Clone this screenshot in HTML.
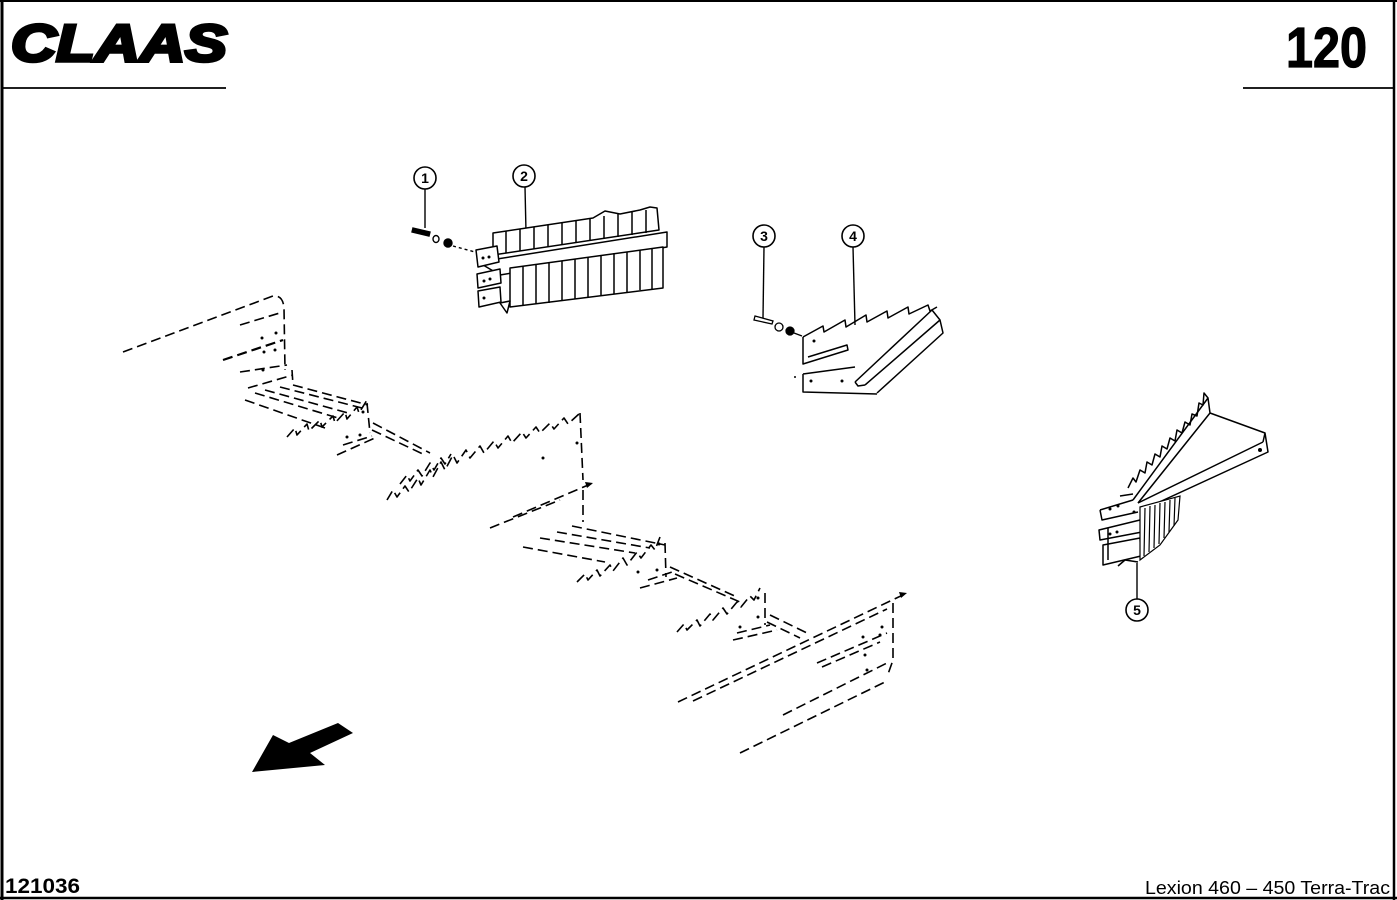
<!DOCTYPE html>
<html><head><meta charset="utf-8"><style>
html,body{margin:0;padding:0;background:#fff;}
svg{display:block;}
</style></head><body>
<svg width="1397" height="900" viewBox="0 0 1397 900" xmlns="http://www.w3.org/2000/svg">
<rect x="0" y="0" width="1397" height="900" fill="#fff"/>
<!-- frame -->
<g stroke="#000" fill="none">
<line x1="0" y1="1" x2="1397" y2="1" stroke-width="2"/>
<line x1="2" y1="0" x2="2" y2="900" stroke-width="3"/>
<line x1="1394" y1="0" x2="1394" y2="900" stroke-width="2.5"/>
<line x1="0" y1="898" x2="1397" y2="898" stroke-width="2.5"/>
<line x1="2" y1="88" x2="226" y2="88" stroke-width="1.8"/>
<line x1="1243" y1="88" x2="1394" y2="88" stroke-width="1.8"/>
</g>
<!-- header texts -->
<text x="11" y="61" font-family="Liberation Sans, sans-serif" font-weight="bold" font-style="italic" font-size="52" textLength="216" lengthAdjust="spacingAndGlyphs" fill="#000" stroke="#000" stroke-width="3.5" stroke-linejoin="miter">CLAAS</text>
<text x="1286" y="67" font-family="Liberation Sans, sans-serif" font-weight="bold" font-size="57" textLength="81" lengthAdjust="spacingAndGlyphs" fill="#000" stroke="#000" stroke-width="1.2">120</text>
<text x="5" y="893" font-family="Liberation Sans, sans-serif" font-weight="bold" font-size="21" textLength="75" lengthAdjust="spacingAndGlyphs" fill="#000">121036</text>
<text x="1145" y="894" font-family="Liberation Sans, sans-serif" font-size="18" textLength="245" lengthAdjust="spacingAndGlyphs" fill="#000">Lexion 460 – 450 Terra-Trac</text>

<!-- callouts -->
<g stroke="#000" stroke-width="1.6" fill="#fff">
<circle cx="425" cy="178" r="11"/>
<circle cx="524" cy="176" r="11"/>
<circle cx="764" cy="236" r="11"/>
<circle cx="853" cy="236" r="11"/>
<circle cx="1137" cy="610" r="11"/>
</g>
<g font-family="Liberation Sans, sans-serif" font-weight="bold" font-size="14" text-anchor="middle" fill="#000">
<text x="425" y="183">1</text>
<text x="524" y="181">2</text>
<text x="764" y="241">3</text>
<text x="853" y="241">4</text>
<text x="1137" y="615">5</text>
</g>
<g stroke="#000" stroke-width="1.4" fill="none">
<line x1="425" y1="189" x2="425" y2="228"/>
<line x1="525" y1="187" x2="526" y2="232"/>
<line x1="764" y1="247" x2="763" y2="318"/>
<line x1="853" y1="247" x2="855" y2="325"/>
<line x1="1137" y1="599" x2="1137" y2="563"/>
</g>

<!-- part 1 hardware -->
<g stroke="#000" stroke-width="1.4">
<path d="M413,228 L430,232 L429,236 L412,232 Z" fill="#000"/>
<ellipse cx="436" cy="239" rx="3" ry="3.5" fill="#fff"/>
<circle cx="448" cy="243" r="4" fill="#000"/>
<line x1="453" y1="246" x2="475" y2="252" stroke-dasharray="3 3" fill="none"/>
</g>

<!-- part 2 -->
<g stroke="#000" stroke-width="1.5" fill="#fff" stroke-linejoin="round">
<path d="M493,233 L593,218 L605,211 L620,214 L640,210 L650,207 L657,208 L659,230 L493,255 Z"/>
<path d="M506,231 L506,253 M520,229 L520,251 M534,227 L534,249 M548,225 L548,247 M562,223 L562,245 M576,221 L576,243 M590,219 L590,241 M604,216 L604,239 M618,214 L618,237 M632,212 L632,235 M646,210 L646,233" fill="none"/>
<path d="M478,262 L667,232 L667,247 L500,275 Z"/>
<path d="M510,268 L663,247 L663,288 L510,307 Z"/>
<path d="M523,266 L523,306 M536,264 L536,304 M549,263 L549,303 M562,261 L562,301 M575,259 L575,299 M588,257 L588,297 M601,255 L601,295 M614,253 L614,294 M627,252 L627,292 M640,250 L640,290 M652,249 L652,289" fill="none"/>
<path d="M476,250 L497,246 L499,262 L478,267 Z"/>
<path d="M477,274 L500,269 L501,283 L478,288 Z"/>
<path d="M478,291 L500,287 L501,302 L479,307 Z"/>
<path d="M500,303 L510,301 L507,313 Z"/>
</g>
<g fill="#000">
<circle cx="483" cy="258" r="1.5"/><circle cx="489" cy="257" r="1.5"/>
<circle cx="484" cy="281" r="1.5"/><circle cx="490" cy="279" r="1.5"/>
<circle cx="484" cy="298" r="1.5"/>
</g>

<!-- part 3 hardware -->
<g stroke="#000" stroke-width="1.3">
<path d="M755,316 L773,321 L772,324 L754,320 Z" fill="#fff"/>
<circle cx="779" cy="327" r="4" fill="#fff"/>
<circle cx="790" cy="331" r="4" fill="#000"/>
<line x1="794" y1="333" x2="802" y2="336" fill="none"/>
</g>
<!-- part 4 -->
<g stroke="#000" stroke-width="1.5" fill="none" stroke-linejoin="round">
<path d="M803,337 L823,326 L824,332 L845,320 L846,327 L866,315 L867,322 L887,311 L888,318 L908,307 L909,314 L928,305 L930,311 L937,307"/>
<path d="M803,337 L803,364 L848,350 L847,345 L808,357"/>
<path d="M855,382 L932,310 L940,320 L943,333 L877,393 M865,385 L940,320 M855,382 L858,386 L865,385"/>
<path d="M803,374 L855,367 M803,374 L803,392 L877,394"/>
</g>
<g fill="#000">
<circle cx="814" cy="341" r="1.5"/><circle cx="811" cy="381" r="1.5"/><circle cx="842" cy="381" r="1.5"/><circle cx="795" cy="377" r="1"/>
</g>

<!-- part 5 -->
<g stroke="#000" stroke-width="1.5" fill="none" stroke-linejoin="round">
<path d="M1128,488 L1133,478 L1136,482 L1140,470 L1145,473 L1147,462 L1152,465 L1155,454 L1160,457 L1162,446 L1167,449 L1170,438 L1175,441 L1177,430 L1182,433 L1185,422 L1190,425 L1192,414 L1197,416 L1199,403 L1203,405 L1204,393 L1208,398"/>
<path d="M1133,500 L1208,398 L1210,413 L1138,503"/>
<path d="M1210,413 L1265,433 L1268,452 L1142,510 M1138,503 L1263,442 M1265,433 L1263,442"/>
<path d="M1100,510 L1102,520 L1138,512 M1100,510 L1133,500 M1120,496 L1133,494"/>
<path d="M1099,530 L1140,520 L1142,532 L1100,540 Z"/>
<path d="M1103,545 L1140,538 L1141,556 L1103,565 Z"/>
<path d="M1118,566 L1125,560 L1138,562"/>
<path d="M1108,528 L1108,560"/>
</g>
<g stroke="#000" stroke-width="1.2" fill="none">
<path d="M1140,507 L1180,496 L1178,520 L1160,545 L1140,560 Z" fill="#fff"/>
<path d="M1145,508 L1144,556 M1150,506 L1149,552 M1155,505 L1154,548 M1160,503 L1159,544 M1165,502 L1164,538 M1170,500 L1169,532 M1175,498 L1174,526"/>
</g>
<g fill="#000">
<circle cx="1260" cy="450" r="2"/><circle cx="1134" cy="512" r="1.5"/><circle cx="1110" cy="509" r="1.5"/><circle cx="1118" cy="506" r="1.5"/><circle cx="1110" cy="534" r="1.5"/><circle cx="1117" cy="532" r="1.5"/>
</g>

<!-- dashed frame drawing -->
<g stroke="#000" stroke-width="1.6" fill="none" stroke-dasharray="10 5" stroke-linejoin="round">
<path d="M123,352 L273,296 Q283,295 284,308 L285,370"/>
<path d="M240,325 L283,312"/>
<path d="M223,360 L283,340" stroke-width="2.2"/>
<path d="M240,372 L287,365"/>
<path d="M248,388 L293,375 M292,370 L293,385"/>
<path d="M255,393 L338,418 M265,390 L348,413 M280,387 L362,408 M293,385 L368,405 M245,400 L325,428"/>
<path d="M287,437 L295,428 L297,435 L307,424 L309,431 L320,420 L322,427 L333,416 L335,423 L345,412 L347,419 L357,407 L359,413 L367,400"/>
<path d="M367,403 L370,433"/>
<path d="M337,455 L377,437 M343,445 L372,436"/>
<path d="M373,423 L430,453 M372,430 L425,455"/>
<path d="M387,500 L393,490 L397,497 L405,486 L409,492 L418,478 L421,485 L430,470 L433,477 L441,462 L445,470 L453,455 L457,463 L466,450 L470,458 L480,446 L484,453 L494,441 L498,448 L508,436 L512,443 L522,432 L526,438 L536,427 L540,433 L550,423 L554,429 L564,418 L568,424 L580,413"/>
<path d="M400,484 L407,475 L410,481 L418,470 L422,476 L430,463 L434,470 L441,458 L445,464 L451,454"/>
<path d="M580,413 L583,480"/>
<path d="M490,528 L560,500 M513,517 L593,483"/>
<path d="M583,490 L583,522"/>
<path d="M523,547 L605,562 M540,538 L635,553 M557,532 L650,548 M572,526 L665,545"/>
<path d="M577,582 L585,574 L588,580 L597,570 L600,576 L610,565 L613,571 L623,558 L627,565 L637,552 L641,558 L651,545 L655,550 L660,537"/>
<path d="M665,543 L666,577"/>
<path d="M640,588 L677,578 M648,580 L672,572"/>
<path d="M670,567 L737,597 M675,574 L740,602"/>
<path d="M677,632 L684,624 L687,630 L697,620 L700,626 L710,614 L713,620 L723,608 L727,614 L737,602 L741,607 L750,596 L754,600 L760,588"/>
<path d="M765,593 L765,625"/>
<path d="M733,640 L777,630 M737,633 L770,625"/>
<path d="M770,615 L807,633 M767,622 L800,638"/>
<path d="M678,702 L907,593"/>
<path d="M693,701 L887,609"/>
<path d="M817,663 L887,633 M822,667 L880,642"/>
<path d="M893,603 L893,660 L887,677"/>
<path d="M783,715 L887,663"/>
<path d="M740,753 L887,681"/>
</g>
<g fill="#000">
<path d="M907,593 L899,592 L901,598 Z"/>
<path d="M593,483 L585,482 L587,488 Z"/>
<circle cx="262" cy="338" r="1.5"/><circle cx="276" cy="333" r="1.5"/><circle cx="264" cy="352" r="1.5"/><circle cx="275" cy="350" r="1.5"/><circle cx="263" cy="370" r="1.5"/>
<circle cx="363" cy="412" r="1.5"/><circle cx="347" cy="437" r="1.5"/><circle cx="360" cy="435" r="1.5"/>
<circle cx="543" cy="458" r="1.5"/><circle cx="577" cy="443" r="1.5"/>
<circle cx="638" cy="572" r="1.5"/><circle cx="657" cy="570" r="1.5"/><circle cx="659" cy="544" r="1.5"/>
<circle cx="740" cy="627" r="1.5"/><circle cx="758" cy="617" r="1.5"/><circle cx="758" cy="598" r="1.5"/>
<circle cx="863" cy="637" r="1.5"/><circle cx="880" cy="635" r="1.5"/><circle cx="865" cy="655" r="1.5"/><circle cx="882" cy="627" r="1.5"/><circle cx="867" cy="670" r="1.5"/>
</g>

<!-- direction arrow -->
<path d="M252,772 L273,735 L289,743 L338,723 L353,733 L310,753 L325,765 Z" fill="#000"/>
</svg>
</body></html>
